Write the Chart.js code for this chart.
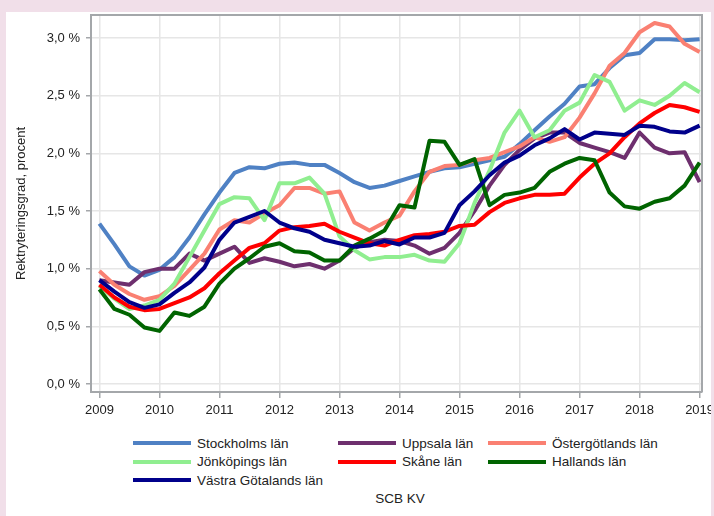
<!DOCTYPE html>
<html lang="sv">
<head>
<meta charset="utf-8">
<title>Rekryteringsgrad per län</title>
<script src="https://cdn.jsdelivr.net/npm/chart.js@4/dist/chart.umd.min.js"></script>
<style>
    html, body { margin: 0; padding: 0; }
    body { width: 714px; height: 516px; background: #f1dfe9; position: relative; overflow: hidden;
           font-family: "Liberation Sans", Arial, sans-serif; color: #222; }
    #panel { position: absolute; left: 6px; top: 12px; width: 705px; height: 504px; background: #fff; overflow: hidden; }
    #chartBox { position: absolute; left: 0; top: 0; width: 705px; height: 420px; }
    #legend { position: absolute; left: 127px; top: 422px; display: grid;
              grid-template-columns: 205px 150px 180px; row-gap: 0; font-size: 13.5px; }
    .item { display: flex; align-items: center; height: 18.5px; white-space: nowrap; }
    .swatch { width: 58px; height: 4px; margin-right: 6px; }
    #source { position: absolute; left: 0; width: 788px; top: 479px; text-align: center; font-size: 13.5px; }
</style>
</head>
<body>
<div id="panel">
    <div id="chartBox"><canvas id="chart"></canvas></div>
    <div id="legend"></div>
    <div id="source">SCB KV</div>
</div>
<script>
// quarters, K1 = first quarter
const periods = [
    "2009K1", "2009K2", "2009K3", "2009K4",
    "2010K1", "2010K2", "2010K3", "2010K4",
    "2011K1", "2011K2", "2011K3", "2011K4",
    "2012K1", "2012K2", "2012K3", "2012K4",
    "2013K1", "2013K2", "2013K3", "2013K4",
    "2014K1", "2014K2", "2014K3", "2014K4",
    "2015K1", "2015K2", "2015K3", "2015K4",
    "2016K1", "2016K2", "2016K3", "2016K4",
    "2017K1", "2017K2", "2017K3", "2017K4",
    "2018K1", "2018K2", "2018K3", "2018K4",
    "2019K1",
];

const counties = [
    "Stockholms län", "Uppsala län", "Östergötlands län",
    "Jönköpings län", "Skåne län", "Hallands län",
    "Västra Götalands län",
];

// rekryteringsgrad, procent
const stockholm = [1.39, 1.21, 1.02, 0.94, 0.99, 1.10, 1.27, 1.47, 1.66, 1.83, 1.88, 1.87, 1.91, 1.92, 1.90, 1.90, 1.83, 1.75, 1.70, 1.72, 1.76, 1.80, 1.84, 1.87, 1.88, 1.91, 1.94, 1.97, 2.08, 2.20, 2.32, 2.43, 2.58, 2.60, 2.74, 2.85, 2.87, 2.99, 2.99, 2.98, 2.99];
const uppsala = [0.90, 0.88, 0.86, 0.97, 1.00, 1.00, 1.13, 1.07, 1.13, 1.19, 1.05, 1.09, 1.06, 1.02, 1.04, 1.00, 1.07, 1.18, 1.23, 1.25, 1.24, 1.20, 1.13, 1.18, 1.31, 1.50, 1.72, 1.90, 2.03, 2.13, 2.18, 2.18, 2.09, 2.05, 2.01, 1.96, 2.18, 2.05, 2.00, 2.01, 1.75];
const ostergotland = [0.98, 0.86, 0.78, 0.73, 0.76, 0.85, 0.99, 1.13, 1.34, 1.42, 1.40, 1.48, 1.55, 1.70, 1.70, 1.65, 1.67, 1.40, 1.33, 1.40, 1.46, 1.67, 1.84, 1.89, 1.90, 1.94, 1.96, 2.01, 2.06, 2.14, 2.10, 2.14, 2.31, 2.52, 2.76, 2.87, 3.05, 3.13, 3.10, 2.95, 2.88];
const jonkoping = [0.85, 0.74, 0.65, 0.68, 0.73, 0.87, 1.10, 1.33, 1.56, 1.62, 1.61, 1.42, 1.74, 1.74, 1.79, 1.65, 1.28, 1.16, 1.08, 1.10, 1.10, 1.12, 1.07, 1.06, 1.22, 1.57, 1.85, 2.18, 2.37, 2.14, 2.20, 2.37, 2.44, 2.68, 2.62, 2.37, 2.46, 2.42, 2.50, 2.61, 2.53];
const skane = [0.86, 0.75, 0.67, 0.64, 0.65, 0.70, 0.75, 0.83, 0.96, 1.07, 1.18, 1.22, 1.33, 1.36, 1.37, 1.39, 1.32, 1.27, 1.22, 1.20, 1.25, 1.29, 1.30, 1.32, 1.37, 1.38, 1.49, 1.57, 1.61, 1.64, 1.64, 1.65, 1.79, 1.91, 2.00, 2.14, 2.26, 2.35, 2.42, 2.40, 2.36];
const halland = [0.82, 0.65, 0.60, 0.49, 0.46, 0.62, 0.59, 0.67, 0.87, 1.00, 1.09, 1.19, 1.22, 1.15, 1.14, 1.07, 1.07, 1.20, 1.26, 1.33, 1.55, 1.53, 2.11, 2.10, 1.90, 1.95, 1.55, 1.64, 1.66, 1.70, 1.84, 1.91, 1.96, 1.94, 1.66, 1.54, 1.52, 1.58, 1.61, 1.72, 1.92];
const vastraGotaland = [0.90, 0.80, 0.71, 0.66, 0.69, 0.79, 0.88, 1.01, 1.25, 1.40, 1.45, 1.50, 1.40, 1.35, 1.32, 1.25, 1.22, 1.19, 1.20, 1.24, 1.21, 1.27, 1.27, 1.31, 1.55, 1.67, 1.81, 1.92, 1.98, 2.07, 2.13, 2.21, 2.12, 2.18, 2.17, 2.16, 2.24, 2.23, 2.19, 2.18, 2.24];

const series = [stockholm, uppsala, ostergotland, jonkoping, skane, halland, vastraGotaland];
const colors = ["#4f81c4", "#6e2f6e", "#fa8072", "#90ee90", "#ff0000", "#006400", "#00008b"];

const yearTicks = [2009, 2010, 2011, 2012, 2013, 2014, 2015, 2016, 2017, 2018, 2019];

// "2009K3" -> 2009.5
function periodToYear(p) {
    return Number(p.slice(0, 4)) + (Number(p.slice(5)) - 1) / 4;
}

const AXIS_GREY = "#a4a7aa";
const GRID_GREY = "#e6e6e6";
const FONT = { family: '"Liberation Sans", Arial, sans-serif', size: 13 };

// top + right border of the plot frame
const frame = {
    id: "frame",
    afterDatasetsDraw(chart) {
        const { ctx, chartArea: a } = chart;
        ctx.save();
        ctx.strokeStyle = AXIS_GREY;
        ctx.lineWidth = 2;
        ctx.beginPath();
        ctx.moveTo(a.left, a.top);
        ctx.lineTo(a.right, a.top);
        ctx.lineTo(a.right, a.bottom);
        ctx.stroke();
        ctx.restore();
    },
};

const el = document.getElementById("chart");
const chart = new Chart(el.getContext("2d"), {
    type: "line",
    data: {
        datasets: counties.map((name, i) => ({
            label: name,
            data: series[i].map((v, k) => ({ x: periodToYear(periods[k]), y: v })),
            borderColor: colors[i],
            backgroundColor: colors[i],
            borderWidth: 4,
            pointRadius: 0,
            tension: 0,
            borderJoinStyle: "round",
            order: counties.length - i, // last one on top
        })),
    },
    options: {
        responsive: true,
        maintainAspectRatio: false,
        animation: false,
        layout: { padding: { top: 3, right: 9, left: 0, bottom: 0 } },
        scales: {
            x: {
                type: "linear",
                min: 2008.86,
                max: 2019.04,
                afterBuildTicks: (s) => { s.ticks = yearTicks.map((v) => ({ value: v })); },
                afterFit: (s) => { s.height = 40; s.paddingLeft = 0; s.paddingRight = 0; },
                ticks: {
                    callback: (v) => String(v),
                    color: "#222",
                    font: FONT,
                    padding: 5,
                    maxRotation: 0,
                    autoSkip: false,
                },
                grid: { color: GRID_GREY, lineWidth: 1.5, tickColor: AXIS_GREY, tickLength: 6, tickWidth: 1.5 },
                border: { color: AXIS_GREY, width: 2 },
            },
            y: {
                min: -0.07,
                max: 3.2,
                ticks: {
                    stepSize: 0.5,
                    includeBounds: false,
                    callback: (v) => v.toFixed(1).replace(".", ",") + " %",
                    color: "#222",
                    font: FONT,
                    padding: 6,
                },
                afterFit: (s) => { s.width = 85; s.paddingTop = 0; s.paddingBottom = 0; },
                grid: { color: GRID_GREY, lineWidth: 1.5, tickColor: AXIS_GREY, tickLength: 5, tickWidth: 1.5 },
                border: { color: AXIS_GREY, width: 2 },
                title: {
                    display: true,
                    text: "Rektryteringsgrad, procent",
                    color: "#222",
                    font: FONT,
                    padding: { top: 8, bottom: 0 },
                },
            },
        },
        plugins: {
            legend: { display: false },
            tooltip: { enabled: false },
        },
    },
    plugins: [frame],
});

// legend in three columns, like the original
const legendEl = document.getElementById("legend");
chart.data.datasets.forEach((ds) => {
    const item = document.createElement("div");
    item.className = "item";
    const sw = document.createElement("span");
    sw.className = "swatch";
    sw.style.background = ds.borderColor;
    const txt = document.createElement("span");
    txt.textContent = ds.label;
    item.appendChild(sw);
    item.appendChild(txt);
    legendEl.appendChild(item);
});
</script>
</body>
</html>
